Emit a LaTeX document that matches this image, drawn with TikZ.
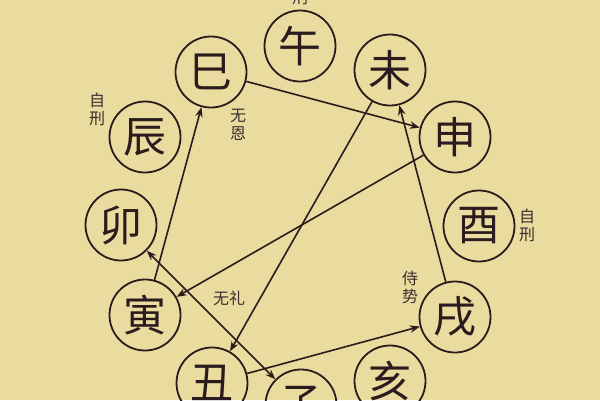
\documentclass[tikz,border=0pt]{standalone}
\usepackage{fontspec}
\newfontfamily\cjk{Noto Sans CJK SC}
\usetikzlibrary{arrows.meta}
\definecolor{bg}{HTML}{EADC9E}
\definecolor{ink}{HTML}{2A1C1E}
\definecolor{lab}{HTML}{3A2E30}
\tikzset{
  zhi/.style={circle, draw=ink, line width=1.8pt, minimum size=71pt, inner sep=0pt,
    font=\cjk\fontsize{43}{43}\selectfont, text=ink},
  tag/.style={font=\cjk\fontsize{16}{18}\selectfont, text=lab, align=center, inner sep=0pt},
  link/.style={draw=ink, line width=1.6pt},
  tip/.style={-{Stealth[length=10pt,width=7.5pt]}},
  tips/.style={{Stealth[length=10pt,width=7.5pt]}-{Stealth[length=10pt,width=7.5pt]}}
}
\begin{document}
\begin{tikzpicture}[x=1pt,y=-1pt]
\fill[bg] (0,0) rectangle (600,400);
\useasboundingbox (0,0) rectangle (600,400);
\node[zhi] (wu)   at (300,46)  {午};
\node[zhi] (wei)  at (390,70)  {未};
\node[zhi] (shen) at (455,137) {申};
\node[zhi] (you)  at (479,226) {酉};
\node[zhi] (xu)   at (455,317) {戌};
\node[zhi] (hai)  at (390,381) {亥};
\node[zhi] (zi)   at (301,405) {子};
\node[zhi] (chou) at (212,383) {丑};
\node[zhi] (yin)  at (145,315) {寅};
\node[zhi] (mao)  at (121,225) {卯};
\node[zhi] (chen) at (145,137) {辰};
\node[zhi] (si)   at (211,72)  {巳};
\node[tag] (t1) at (300,-2)  {刑};
\node[tag] (t2) at (238,125) {无\\恩};
\node[tag] (t3) at (97,109)  {自\\刑};
\node[tag] (t4) at (527,225) {自\\刑};
\node[tag] (t5) at (410,287) {侍\\势};
\node[tag] (t6) at (229,298) {无礼};
\draw[link,tip] (si) -- (shen);
\draw[link,tip] (wei) -- (chou);
\draw[link,tip] (shen) -- (yin);
\draw[link,tip] (yin) -- (si);
\draw[link,tips] (mao) -- (zi);
\draw[link,tip] (chou) -- (xu);
\draw[link,tip] (xu) -- (wei);
\end{tikzpicture}
\end{document}
